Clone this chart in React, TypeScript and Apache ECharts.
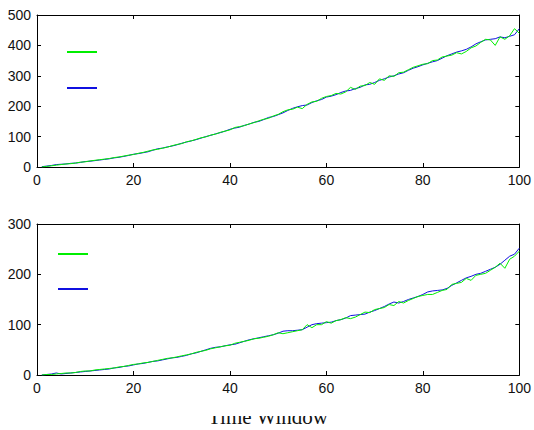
import React, { useEffect, useRef } from "react";
import * as echarts from "echarts";

const xTicks = [0, 20, 40, 60, 80, 100];
const topGreen = [
  0, 2, 4, 6, 8, 10, 11, 13, 16, 17,
  20, 22, 24, 26, 28, 31, 33, 36, 39, 41,
  45, 48, 52, 56, 58, 62, 65, 70, 74, 77,
  83, 86, 91, 96, 99, 105, 108, 114, 118, 122,
  130, 133, 136, 142, 146, 152, 157, 160, 168, 173,
  182, 188, 190, 197, 192, 206, 214, 216, 226, 232,
  235, 242, 240, 247, 262, 255, 266, 268, 278, 272,
  290, 285, 300, 298, 310, 312, 320, 328, 333, 338,
  340, 350, 352, 362, 365, 368, 376, 372, 380, 392,
  398, 410, 420, 418, 400, 428, 420, 432, 455, 440,
];
const topBlue = [
  1, 3, 5, 8, 9, 10, 12, 13, 15, 18,
  19, 21, 23, 25, 27, 30, 32, 35, 38, 42,
  44, 47, 50, 55, 60, 62, 66, 69, 73, 78,
  82, 86, 90, 95, 100, 104, 109, 113, 118, 124,
  128, 131, 137, 141, 147, 150, 156, 163, 166, 172,
  178, 186, 193, 198, 202, 204, 212, 218, 222, 230,
  233, 238, 245, 250, 252, 258, 262, 270, 272, 278,
  285, 290, 296, 300, 306, 310, 318, 325, 330, 336,
  341, 346, 350, 358, 366, 372, 378, 382, 387, 395,
  405, 412, 418, 420, 422, 428, 425, 430, 435, 455,
];
const bottomGreen = [
  0, 1, 1, 2, 3, 4, 4, 5, 7, 8,
  8, 10, 11, 12, 13, 14, 16, 17, 19, 21,
  22, 24, 25, 27, 29, 31, 33, 34, 36, 38,
  40, 42, 45, 47, 49, 52, 54, 56, 58, 59,
  63, 65, 67, 69, 72, 73, 75, 77, 80, 84,
  82, 84, 86, 88, 90, 100, 94, 100, 100, 106,
  103, 108, 110, 114, 112, 115, 120, 125, 124, 130,
  132, 134, 140, 138, 146, 143, 148, 152, 156, 158,
  160, 160, 164, 168, 170, 180, 182, 184, 192, 188,
  198, 200, 202, 208, 214, 222, 212, 230, 236, 246,
];
const bottomBlue = [
  0, 1, 2, 4, 2, 3, 4, 5, 6, 7,
  8, 9, 10, 11, 12, 14, 15, 17, 18, 20,
  22, 23, 25, 27, 28, 30, 32, 34, 35, 37,
  39, 42, 44, 47, 50, 53, 55, 56, 58, 60,
  61, 64, 67, 70, 72, 74, 76, 78, 80, 83,
  87, 88, 88, 89, 90, 95, 100, 102, 103, 104,
  105, 108, 110, 113, 118, 119, 120, 121, 125, 128,
  132, 136, 141, 145, 143, 146, 150, 153, 156, 160,
  165, 167, 168, 169, 172, 178, 183, 188, 193, 196,
  200, 202, 206, 210, 214, 220, 228, 236, 240, 252,
];
const topYTicks = [0, 100, 200, 300, 400, 500];
const bottomYTicks = [0, 100, 200, 300];
const xLabel = "Time Window";

const GREEN = "#00ee00";
const BLUE = "#1010e0";
const FONT = "Liberation Sans";

function pairs(vals: number[]) {
  return vals.map((v, i) => [i + 1, v]);
}

export default function App() {
  const ref = useRef<HTMLDivElement>(null);
  useEffect(() => {
    document.body.style.margin = "0";
    const chart = echarts.init(ref.current!, null, { renderer: "svg" });
    const grids = [
      { left: 37, top: 15, width: 484, height: 152 },
      { left: 37, top: 224, width: 484, height: 151 },
    ];
    const xMax = xTicks[xTicks.length - 1];
    const xAxes: any[] = [];
    const yAxes: any[] = [];
    const yTickSets = [topYTicks, bottomYTicks];
    [0, 1].forEach((g) => {
      const common = {
        type: "value",
        gridIndex: g,
        min: xTicks[0],
        max: xMax,
        interval: xTicks[1] - xTicks[0],
        splitLine: { show: false },
        axisLine: { show: true, onZero: false, lineStyle: { color: "#000", width: 1 } },
        axisTick: { show: true, inside: true, length: 4, lineStyle: { color: "#000" } },
      };
      xAxes.push({
        ...common,
        position: "bottom",
        axisLabel: { show: true, fontFamily: FONT, fontSize: 14, color: "#111", margin: 6 },
      });
      xAxes.push({ ...common, position: "top", axisLabel: { show: false } });
      const yt = yTickSets[g];
      const ycommon = {
        type: "value",
        gridIndex: g,
        min: yt[0],
        max: yt[yt.length - 1],
        interval: yt[1] - yt[0],
        splitLine: { show: false },
        axisLine: { show: true, onZero: false, lineStyle: { color: "#000", width: 1 } },
        axisTick: { show: true, inside: true, length: 4, lineStyle: { color: "#000" } },
      };
      yAxes.push({
        ...ycommon,
        position: "left",
        axisLabel: { show: true, fontFamily: FONT, fontSize: 14, color: "#111", margin: 6 },
      });
      yAxes.push({ ...ycommon, position: "right", axisLabel: { show: false } });
    });
    const mk = (name: string, data: number[], g: number, color: string) => ({
      name,
      type: "line",
      xAxisIndex: g * 2,
      yAxisIndex: g * 2,
      data: pairs(data),
      symbol: "none",
      lineStyle: { color, width: 1 },
      itemStyle: { color },
    });
    chart.setOption({
      animation: false,
      backgroundColor: "#fff",
      grid: grids,
      xAxis: xAxes,
      yAxis: yAxes,
      legend: [
        {
          data: ["topGreen", "topBlue"],
          orient: "vertical",
          left: 67,
          top: 51,
          padding: 0,
          itemWidth: 30,
          itemHeight: 2,
          itemGap: 34,
          icon: "rect",
          formatter: () => "",
          selectedMode: false,
        },
        {
          data: ["bottomGreen", "bottomBlue"],
          orient: "vertical",
          left: 58,
          top: 253,
          padding: 0,
          itemWidth: 30,
          itemHeight: 2,
          itemGap: 33,
          icon: "rect",
          formatter: () => "",
          selectedMode: false,
        },
      ],
      series: [
        mk("topBlue", topBlue, 0, BLUE),
        mk("topGreen", topGreen, 0, GREEN),
        mk("bottomBlue", bottomBlue, 1, BLUE),
        mk("bottomGreen", bottomGreen, 1, GREEN),
      ],
      graphic: [
        {
          type: "text",
          x: 268,
          y: 427,
          style: {
            text: xLabel,
            fontFamily: "Liberation Serif",
            fontSize: 21,
            fill: "#111",
            textAlign: "center",
            textVerticalAlign: "bottom",
          },
          z: 10,
        },
        {
          type: "rect",
          shape: { x: 190, y: 400, width: 160, height: 16 },
          style: { fill: "#fff" },
          z: 11,
        },
      ],
    });
    return () => chart.dispose();
  }, []);
  return <div ref={ref} style={{ width: 534, height: 430 }} />;
}
